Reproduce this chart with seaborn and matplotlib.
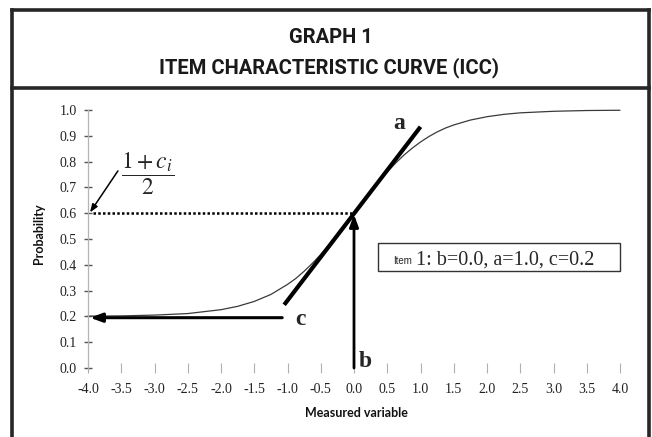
import matplotlib

matplotlib.use("Agg")

import matplotlib.pyplot as plt
import pandas as pd
import seaborn as sns
from matplotlib.lines import Line2D

# values
theta = [-4.0, -3.5, -3.0, -2.5, -2.0, -1.75, -1.5, -1.25, -1.0, -0.875, -0.75, -0.625, -0.5, -0.375,
         -0.25, -0.125, 0.0, 0.125, 0.25, 0.375, 0.5, 0.625, 0.75, 0.875, 1.0, 1.125, 1.25, 1.375,
         1.5, 1.75, 2.0, 2.25, 2.5, 3.0, 3.5, 4.0]
probability = [0.201, 0.202, 0.205, 0.211, 0.226, 0.239, 0.258, 0.285, 0.324, 0.347, 0.375, 0.406,
               0.440, 0.477, 0.516, 0.558, 0.600, 0.642, 0.684, 0.723, 0.760, 0.794, 0.825, 0.852,
               0.876, 0.897, 0.915, 0.930, 0.942, 0.961, 0.974, 0.983, 0.989, 0.995, 0.998, 0.999]

tangent_x = [-1.05, 1.0]
tangent_y = [0.245, 0.935]

b_value = 0.0
c_value = 0.2
half_point = 0.6          # (1 + c) / 2
c_arrow_start = -1.08

x_ticks = [-4.0, -3.5, -3.0, -2.5, -2.0, -1.5, -1.0, -0.5, 0.0, 0.5, 1.0, 1.5, 2.0, 2.5, 3.0, 3.5, 4.0]
y_ticks = [0.0, 0.1, 0.2, 0.3, 0.4, 0.5, 0.6, 0.7, 0.8, 0.9, 1.0]

title_lines = ["GRAPH 1", "ITEM CHARACTERISTIC CURVE (ICC)"]
item_label = "1: b=0.0, a=1.0, c=0.2"

sns.set_theme(style="white")
plt.rcParams["font.family"] = ["Liberation Serif", "DejaVu Serif"]
plt.rcParams["axes.unicode_minus"] = False
plt.rcParams["mathtext.fontset"] = "stix"

W, H = 652, 437
fig = plt.figure(figsize=(W / 100, H / 100), dpi=100)
fig.patch.set_facecolor("white")


def px(x, y):
    return x / W, 1 - y / H


# frame around the whole graphic (open at the bottom)
frame = "#262626"
for xs, ys in [([12, 12], [10, H]), ([649, 649], [10, H]), ([12, 649], [10, 10]), ([12, 649], [88, 88])]:
    fig.add_artist(Line2D([x / W for x in xs], [1 - y / H for y in ys], color=frame, lw=2.6,
                          solid_capstyle="projecting", transform=fig.transFigure))

sans_bold = ["Roboto", "Liberation Sans", "DejaVu Sans"]
fig.text(*px(331, 43), title_lines[0], ha="center", va="baseline", fontsize=14.5, fontweight="bold",
         family=sans_bold, color="#1a1a1a")
fig.text(*px(329, 73), title_lines[1], ha="center", va="baseline", fontsize=14.5, fontweight="bold",
         family=sans_bold, color="#1a1a1a")

# axes: x -4..4 -> px 88..620, y 0..1 -> px 368..110
ax = fig.add_axes([88 / W, 1 - 368 / H, 532 / W, 258 / H])
ax.set_xlim(-4, 4)
ax.set_ylim(0, 1)
ax.patch.set_alpha(0)

df = pd.DataFrame({"theta": theta, "p": probability})
sns.lineplot(data=df, x="theta", y="p", ax=ax, color="#3a3a3a", lw=0.9, clip_on=False)

# tangent (discrimination a)
ax.plot(tangent_x, tangent_y, color="black", lw=3.0, solid_capstyle="butt", clip_on=False)

# dotted line at (1+c)/2
ax.plot([-3.93, b_value], [half_point, half_point], color="black", lw=1.8,
        linestyle=(0, (1, 0.9)), clip_on=False)

# arrow from b up to the curve
ax.annotate("", xy=(b_value, half_point - 0.005), xytext=(b_value, 0.0),
            arrowprops=dict(arrowstyle="-|>,head_length=0.6,head_width=0.22", lw=2.0, color="black",
                            shrinkA=0, shrinkB=0), annotation_clip=False)
# arrow for the lower asymptote c
ax.annotate("", xy=(-3.97, c_value - 0.005), xytext=(c_arrow_start, c_value - 0.005),
            arrowprops=dict(arrowstyle="-|>,head_length=0.6,head_width=0.22", lw=2.2, color="black",
                            shrinkA=0, shrinkB=0), annotation_clip=False)
# pointer to (1+c)/2
ax.annotate("", xy=(-3.97, 0.603), xytext=(-3.55, 0.764),
            arrowprops=dict(arrowstyle="-|>,head_length=0.4,head_width=0.15", lw=1.1, color="black",
                            shrinkA=0, shrinkB=0), annotation_clip=False)
ax.text(-3.11, 0.755, r"$\dfrac{1+c_i}{2}$", ha="center", va="center", fontsize=17)

ax.text(0.68, 0.926, "a", ha="center", va="baseline", fontsize=17, fontweight="bold")
ax.text(0.165, 0.004, "b", ha="center", va="baseline", fontsize=17, fontweight="bold")
ax.text(-0.81, 0.167, "c", ha="center", va="baseline", fontsize=17, fontweight="bold")

# item box
ax.add_patch(plt.Rectangle((0.36, 0.376), 3.64, 0.108, facecolor="white", edgecolor="#333333",
                           lw=1.0, clip_on=False))
ax.text(0.59, 0.403, "Item", ha="left", va="baseline", fontsize=7, family=["Liberation Sans", "DejaVu Sans"])
ax.text(0.93, 0.40, item_label, ha="left", va="baseline", fontsize=14.5)

# axis styling
for side in ["top", "right", "bottom"]:
    ax.spines[side].set_visible(False)
ax.spines["left"].set_color("#b5b5b5")
ax.spines["left"].set_linewidth(0.9)
ax.set_xticks(x_ticks)
ax.set_xticklabels([f"{v:.1f}" for v in x_ticks])
ax.set_yticks(y_ticks)
ax.set_yticklabels([f"{v:.1f}" for v in y_ticks])
ax.tick_params(axis="x", bottom=True, direction="inout", length=7, width=0.8, color="#b0b0b0", pad=7,
               labelsize=10, labelcolor="#222222")
ax.tick_params(axis="y", left=True, direction="inout", length=6, width=1.0, color="#555555", pad=5,
               labelsize=10, labelcolor="#222222")
ax.set_xlabel("")
ax.set_ylabel("")

fig.text(*px(356, 413), "Measured variable", ha="center", va="center", fontsize=9,
         fontweight="bold", family=["Lato", "DejaVu Sans"], color="#111111")
fig.text(*px(39, 234), "Probability", ha="center", va="center", rotation=90, fontsize=9,
         fontweight="bold", family=["Lato", "DejaVu Sans"], color="#111111")

fig.savefig("out.png", dpi=100)
